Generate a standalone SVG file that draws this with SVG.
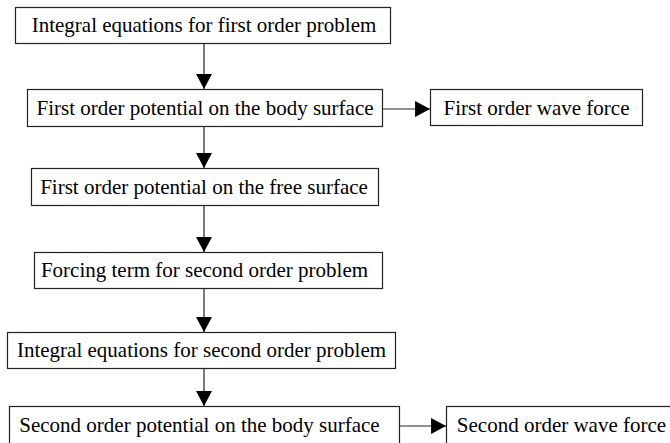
<svg xmlns="http://www.w3.org/2000/svg" width="670" height="443" viewBox="0 0 670 443">
<defs>
<style>
.box{fill:#fff;stroke:#222;stroke-width:1.2}
.lbl{font-family:"Liberation Serif","Times New Roman",serif;font-size:21px;fill:#000;text-anchor:middle}
.con{stroke:#222;stroke-width:1.2;fill:none}
</style>
<marker id="ah" markerUnits="userSpaceOnUse" markerWidth="16" markerHeight="16" viewBox="0 0 14 15" refX="14" refY="7.5" orient="auto">
<path d="M0,0 L14,7.5 L0,15 Z" fill="#000"/>
</marker>
</defs>
<rect width="670" height="443" fill="#fff"/>
<g id="n1"><rect class="box" x="15.5" y="7.5" width="375" height="36"/><text class="lbl" x="204" y="32">Integral equations for first order problem</text></g>
<g id="n2"><rect class="box" x="27.5" y="89.5" width="355" height="37"/><text class="lbl" x="205" y="115">First order potential on the body surface</text></g>
<g id="n3"><rect class="box" x="430.5" y="89.5" width="212" height="36"/><text class="lbl" x="536.5" y="115">First order wave force</text></g>
<g id="n4"><rect class="box" x="31.5" y="168.5" width="347" height="37"/><text class="lbl" x="204" y="194">First order potential on the free surface</text></g>
<g id="n5"><rect class="box" x="34.5" y="252.5" width="348" height="36"/><text class="lbl" x="204.5" y="277">Forcing term for second order problem</text></g>
<g id="n6"><rect class="box" x="7.5" y="332.5" width="388" height="36"/><text class="lbl" x="201.5" y="357">Integral equations for second order problem</text></g>
<g id="n7"><rect class="box" x="9.5" y="406.5" width="390" height="40"/><text class="lbl" x="199.5" y="432">Second order potential on the body surface</text></g>
<g id="n8"><rect class="box" x="446.5" y="406.5" width="240" height="40"/><text class="lbl" x="561.5" y="432">Second order wave force</text></g>
<g id="connectors">
<line class="con" x1="204" y1="44" x2="204" y2="89" marker-end="url(#ah)"/>
<line class="con" x1="382" y1="109" x2="430" y2="109" marker-end="url(#ah)"/>
<line class="con" x1="204" y1="127" x2="204" y2="168" marker-end="url(#ah)"/>
<line class="con" x1="204" y1="206" x2="204" y2="252" marker-end="url(#ah)"/>
<line class="con" x1="204" y1="289" x2="204" y2="332" marker-end="url(#ah)"/>
<line class="con" x1="204" y1="369" x2="204" y2="406" marker-end="url(#ah)"/>
<line class="con" x1="400" y1="426" x2="446" y2="426" marker-end="url(#ah)"/>
</g>
</svg>
